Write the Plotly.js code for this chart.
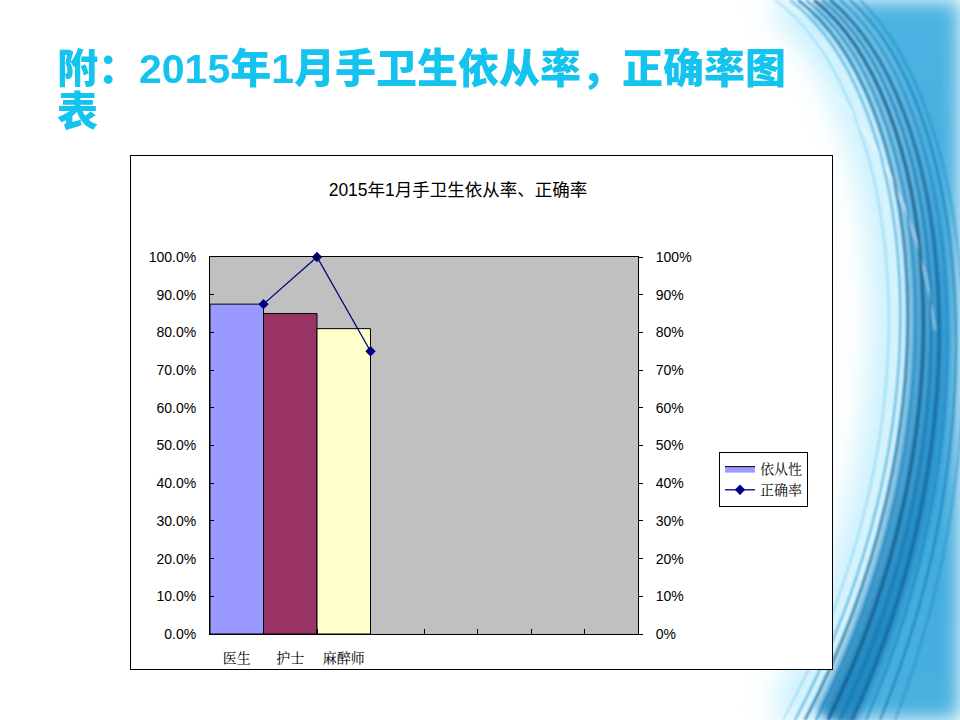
<!DOCTYPE html>
<html><head><meta charset="utf-8">
<script src="https://cdn.plot.ly/plotly-3.0.1.min.js"></script>
<style>
html,body{margin:0;padding:0;width:960px;height:720px;overflow:hidden;background:#fff;}
#bg{position:absolute;left:0;top:0;width:960px;height:720px;}
#title{position:absolute;left:57px;top:48px;font-family:"Liberation Sans","Noto Sans CJK SC",sans-serif;font-weight:900;font-size:41px;line-height:43px;color:#14C3EE;white-space:nowrap;}
#box{position:absolute;left:130px;top:155px;width:701px;height:513px;background:#fff;border:1px solid #000;}
#chart{position:absolute;left:0;top:0;width:960px;height:720px;}
</style></head>
<body>
<svg id="bg" width="960" height="720" viewBox="0 0 960 720">
<defs>
<filter id="blur10" x="-50%" y="-50%" width="200%" height="200%"><feGaussianBlur stdDeviation="10"/></filter>
<filter id="blur20" x="-50%" y="-50%" width="200%" height="200%"><feGaussianBlur stdDeviation="16"/></filter>
<filter id="blur4" x="-50%" y="-50%" width="200%" height="200%"><feGaussianBlur stdDeviation="5"/></filter>
<filter id="blur2" x="-20%" y="-20%" width="140%" height="140%"><feGaussianBlur stdDeviation="0.8"/></filter>
<linearGradient id="gb" x1="0" y1="0" x2="0" y2="1">
<stop offset="0" stop-color="#4DB2E2"/>
<stop offset="0.6" stop-color="#3FA9DD"/>
<stop offset="1" stop-color="#49B0E0"/>
</linearGradient>
<linearGradient id="band" x1="0" y1="0" x2="0" y2="1">
<stop offset="0" stop-color="#7cc8ea"/>
<stop offset="0.4" stop-color="#2a92cc"/>
<stop offset="1" stop-color="#1479b5"/>
</linearGradient>
</defs>
<path d="M815,0 C935,90 990,410 815,720 L960,720 L960,0 Z" fill="url(#gb)" filter="url(#blur10)"/>
<path d="M780,0 C900,90 950,410 785,720" fill="none" stroke="#8fe0fa" stroke-width="30" opacity="0.6" filter="url(#blur20)"/>
<path d="M822,0 C940,95 982,417 835,720" fill="none" stroke="url(#band)" stroke-width="40" opacity="0.75" filter="url(#blur4)"/>
<g fill="none" filter="url(#blur2)">
<path d="M690,0 C850,50 920,200 935,330" stroke="#ffffff" stroke-width="1.5" opacity="0.6"/>
<path d="M790,0 C910,90 960,410 795,720" stroke="#3aa6da" stroke-width="2" opacity="0.8"/>
<path d="M798,0 C918,90 966,412 805,720" stroke="#0d6aa0" stroke-width="2.5" opacity="0.8"/>
<path d="M806,0 C926,92 972,414 816,720" stroke="#1a7fbb" stroke-width="2" opacity="0.8"/>
<path d="M814,0 C934,94 978,416 828,720" stroke="#0a5486" stroke-width="3" opacity="0.8"/>
<path d="M822,0 C942,96 984,418 840,720" stroke="#136fa8" stroke-width="2" opacity="0.8"/>
<path d="M830,0 C950,98 990,420 852,720" stroke="#0b5a8c" stroke-width="3" opacity="0.7"/>
<path d="M840,0 C958,100 996,422 866,720" stroke="#1a7fbb" stroke-width="2" opacity="0.7"/>
<path d="M850,0 C966,104 1002,424 880,720" stroke="#0d6aa0" stroke-width="2" opacity="0.6"/>
<path d="M860,0 C972,108 1008,426 895,720" stroke="#1781bd" stroke-width="2" opacity="0.5"/>
<path d="M775,0 C895,88 952,408 783,720" stroke="#6fcff0" stroke-width="1.5" opacity="0.7"/>
</g>
</svg>
<div id="title">附：2015年1月手卫生依从率，正确率图<br>表</div>
<div id="box"></div>
<div id="chart"></div>
<script>
const categories = ['医生', '护士', '麻醉师'];
const compliance = [0.875, 0.85, 0.81];   // 依从性
const correctness = [0.875, 1.0, 0.75];   // 正确率
const barColors = ['#9999FF', '#993366', '#FFFFCC'];
const seriesNames = ['依从性', '正确率'];
const slotCount = 8;
const yTicks = [0, 0.1, 0.2, 0.3, 0.4, 0.5, 0.6, 0.7, 0.8, 0.9, 1.0];

const idx = categories.map((c, i) => i);
const serif = '"Noto Serif CJK SC","Noto Sans CJK SC","Liberation Serif",serif';
const sans = '"Liberation Sans","Noto Sans CJK SC",sans-serif';

const traces = [
  {
    type: 'bar', name: seriesNames[0], showlegend: false,
    x: idx.map(i => i + 0.5), y: compliance, width: 1,
    marker: {color: barColors, line: {color: '#000', width: 1}},
    xaxis: 'x', yaxis: 'y', hoverinfo: 'skip'
  },
  {
    type: 'scatter', mode: 'lines', name: seriesNames[0], legendrank: 1,
    x: [null], y: [null], fill: 'toself', fillcolor: barColors[0],
    line: {color: '#000', width: 1}, xaxis: 'x', yaxis: 'y', hoverinfo: 'skip'
  },
  {
    type: 'scatter', mode: 'lines+markers', name: seriesNames[1], legendrank: 2,
    x: idx.map(i => i + 1), y: correctness,
    line: {color: '#000080', width: 1.3},
    marker: {symbol: 'diamond', size: 8, color: '#000080'},
    xaxis: 'x', yaxis: 'y2', hoverinfo: 'skip', cliponaxis: false
  },
  {
    type: 'scatter', mode: 'markers', x: idx.map(i => i + 0.5), y: compliance.map(() => 0),
    xaxis: 'x2', yaxis: 'y', showlegend: false, marker: {opacity: 0}, hoverinfo: 'skip'
  }
];

const layout = {
  width: 960, height: 720,
  margin: {l: 210, r: 322, t: 257, b: 86},
  paper_bgcolor: 'rgba(0,0,0,0)',
  plot_bgcolor: '#C0C0C0',
  showlegend: true,
  bargap: 0,
  title: {
    text: '2015年1月手卫生依从率、正确率',
    font: {family: sans, size: 17.5, color: '#000'},
    x: 458 / 960, xanchor: 'center', xref: 'container',
    y: 1 - 190 / 720, yanchor: 'middle', yref: 'container'
  },
  xaxis: {
    range: [0, slotCount], tickvals: Array.from({length: slotCount - 1}, (_, k) => k + 1),
    ticks: 'inside', ticklen: 5, tickcolor: '#000', showticklabels: false,
    showgrid: false, zeroline: false, showline: true, linecolor: '#000', linewidth: 1, mirror: true,
    fixedrange: true
  },
  xaxis2: {
    overlaying: 'x', side: 'bottom', range: [0, slotCount],
    tickvals: idx.map(i => i + 0.5), ticktext: categories,
    ticks: '', showgrid: false, zeroline: false, showline: false,
    tickfont: {family: serif, size: 14, color: '#000'}, ticklabelstandoff: 14
  },
  yaxis: {
    range: [0, 1], tickvals: yTicks, tickformat: '.1%',
    ticks: 'inside', ticklen: 4, tickcolor: '#000',
    tickfont: {family: sans, size: 14, color: '#000'}, ticklabelstandoff: 10,
    showgrid: false, zeroline: false, showline: true, linecolor: '#000', mirror: true
  },
  yaxis2: {
    overlaying: 'y', side: 'right', range: [0, 1], tickvals: yTicks, tickformat: '.0%',
    ticks: 'outside', ticklen: 4, tickcolor: '#000',
    tickfont: {family: sans, size: 14, color: '#000'}, ticklabelstandoff: 10,
    showgrid: false, zeroline: false, showline: true, linecolor: '#000'
  },
  legend: {
    x: (719 - 210) / 428, xanchor: 'left', y: (634 - 452) / 377, yanchor: 'top',
    bgcolor: '#fff', bordercolor: '#000', borderwidth: 1,
    font: {family: serif, size: 14, color: '#000'},
    tracegroupgap: 0, itemwidth: 30, traceorder: 'normal'
  }
};

Plotly.newPlot('chart', traces, layout, {staticPlot: true, displayModeBar: false});
</script>
</body></html>
